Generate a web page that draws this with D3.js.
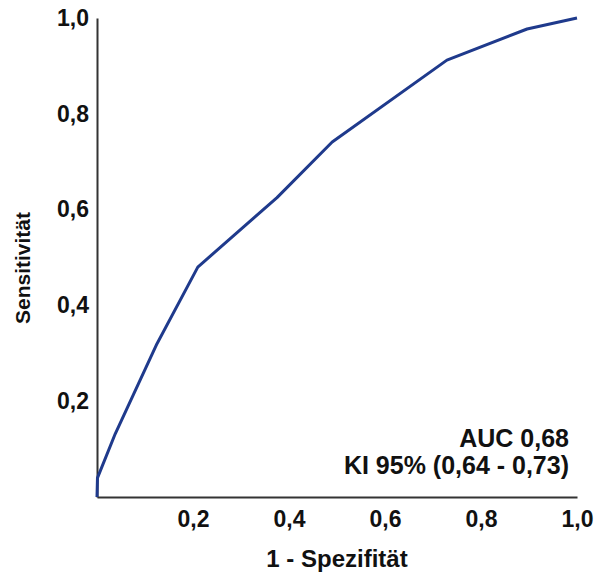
<!DOCTYPE html>
<html><head><meta charset="utf-8">
<script src="https://cdn.jsdelivr.net/npm/d3@7"></script>
<style>body{margin:0;background:#fff}svg{display:block}text{font-family:"Liberation Sans",Arial,sans-serif;font-weight:bold;fill:#111}</style>
</head><body><svg id="c" width="601" height="575"></svg>
<script>
const fpr = [0, 0.001, 0.038, 0.125, 0.21, 0.375, 0.49, 0.729, 0.896, 1];
const tpr = [0, 0.04, 0.132, 0.32, 0.48, 0.625, 0.741, 0.912, 0.977, 1];
const xTicks = [0.2, 0.4, 0.6, 0.8, 1.0];
const yTicks = [0.2, 0.4, 0.6, 0.8, 1.0];
const xTitle = "1 - Spezifität";
const yTitle = "Sensitivität";
const annot = ["AUC 0,68", "KI 95% (0,64 - 0,73)"];

const svg = d3.select("#c");
const x = d3.scaleLinear().domain([0,1]).range([97,577]);
const y = d3.scaleLinear().domain([0,1]).range([497,18]);
const fmt = d => d3.format(".1f")(d).replace(".", ",");

const xa = svg.append("g").attr("transform","translate(0,497)")
  .call(d3.axisBottom(x).tickValues(xTicks).tickFormat(fmt).tickSize(0).tickPadding(14));
const ya = svg.append("g").attr("transform","translate(97,0)")
  .call(d3.axisLeft(y).tickValues(yTicks).tickFormat(fmt).tickSize(0).tickPadding(8));
[xa,ya].forEach(a=>{
  a.select(".domain").attr("stroke","#333").attr("stroke-width",2);
  a.selectAll("text").style("font-size","23px").style("font-family","Liberation Sans, Arial, sans-serif").style("font-weight","bold").attr("fill","#111");
});

const line = d3.line().x((d,i)=>x(fpr[i])).y((d,i)=>y(tpr[i]));
svg.append("path").datum(fpr).attr("d",line).attr("fill","none")
  .attr("stroke","#1f3a8c").attr("stroke-width",3).attr("stroke-linejoin","round");

svg.append("text").attr("x",337).attr("y",567).attr("text-anchor","middle").style("font-size","24px").text(xTitle);
svg.append("text").attr("transform","translate(30,268) rotate(-90)").attr("text-anchor","middle").style("font-size","21px").text(yTitle);
svg.append("text").attr("x",569).attr("y",447).attr("text-anchor","end").style("font-size","25px").text(annot[0]);
svg.append("text").attr("x",569).attr("y",474).attr("text-anchor","end").style("font-size","25px").text(annot[1]);
</script></body></html>
